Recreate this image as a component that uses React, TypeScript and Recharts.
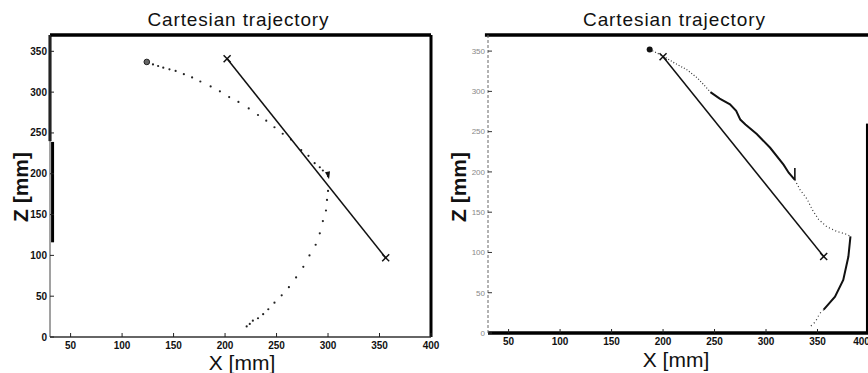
import React from 'react';
import { ScatterChart, Scatter, XAxis, YAxis, ReferenceLine } from 'recharts';

const xTicks = [50, 100, 150, 200, 250, 300, 350, 400];
const zTicks = [0, 50, 100, 150, 200, 250, 300, 350];

// left panel: straight reference path, start point, sampled trajectory
const leftPathX = [202, 356];
const leftPathZ = [341, 97];
const leftStartX = [124];
const leftStartZ = [337];
const leftArrowX = [300];
const leftArrowZ = [197];
const leftTrajX = [124, 130, 135, 140, 146, 152, 160, 168, 176, 186, 195, 204, 213, 223, 232, 240, 248, 256, 264, 274, 281, 287, 292, 295, 300, 300, 299, 298, 295, 292, 288, 282, 276, 269, 262, 255, 248, 242, 237, 232, 227, 224, 221];
const leftTrajZ = [337, 334, 332, 330, 328, 326, 322, 318, 313, 307, 301, 294, 288, 280, 272, 265, 257, 249, 242, 229, 222, 213, 208, 204, 197, 179, 168, 155, 142, 127, 113, 100, 86, 73, 61, 51, 42, 34, 28, 23, 20, 16, 13];

// right panel
const rightPathX = [200, 356];
const rightPathZ = [343, 95];
const rightStartX = [187];
const rightStartZ = [352];
const rightArrowX = [328];
const rightArrowZ = [190];
const rightSeg1X = [187, 200, 210, 223, 233, 239, 246];
const rightSeg1Z = [352, 344, 336, 327, 317, 309, 299];
const rightSeg2X = [246, 255, 265, 271, 275, 280, 291, 304, 317, 322, 328];
const rightSeg2Z = [299, 291, 284, 276, 265, 259, 247, 230, 209, 199, 190];
const rightSeg3X = [328, 333, 340, 345, 351, 359, 369, 377, 382];
const rightSeg3Z = [190, 178, 166, 153, 141, 132, 126, 123, 120];
const rightSeg4X = [382, 380, 375, 367, 356];
const rightSeg4Z = [120, 95, 66, 45, 29];
const rightSeg5X = [356, 352, 348, 343];
const rightSeg5Z = [29, 24, 14, 8];

const pts = (xs: number[], zs: number[]) => xs.map((x, i) => ({ x, y: zs[i] }));

const FONT = '"Liberation Sans", Arial, sans-serif';

const Hidden = () => <g />;
const SmallDot = (p: any) => <circle cx={p.cx} cy={p.cy} r={1.1} fill="#222" />;
const XMark = (p: any) => (
  <g stroke="#111" strokeWidth={1.5}>
    <line x1={p.cx - 3.5} y1={p.cy - 3.5} x2={p.cx + 3.5} y2={p.cy + 3.5} />
    <line x1={p.cx - 3.5} y1={p.cy + 3.5} x2={p.cx + 3.5} y2={p.cy - 3.5} />
  </g>
);
const OpenCircle = (p: any) => <circle cx={p.cx} cy={p.cy} r={2.8} fill="#666" stroke="#222" strokeWidth={1} />;
const FilledCircle = (p: any) => <circle cx={p.cx} cy={p.cy} r={3} fill="#111" />;
const LeftArrow = (p: any) => (
  <polygon points={`${p.cx + 1},${p.cy + 3} ${p.cx - 3},${p.cy - 4} ${p.cx + 2},${p.cy - 5}`} fill="#111" />
);
const RightArrow = (p: any) => (
  <line x1={p.cx} y1={p.cy - 12} x2={p.cx} y2={p.cy} stroke="#111" strokeWidth={1.6} />
);

const tickBold = { fontSize: 10, fontWeight: 700, fill: '#111', fontFamily: FONT };
const tickFaint = { fontSize: 8, fill: '#888', fontFamily: FONT };

const LeftChart = () => (
  <ScatterChart width={440} height={373} margin={{ top: 35, right: 9, bottom: 0, left: 0 }}>
    <XAxis type="number" dataKey="x" domain={[30, 400]} ticks={xTicks} height={36}
      tickSize={-4} tickMargin={9} tick={tickBold} tickLine={{ stroke: '#222' }}
      axisLine={{ stroke: '#333', strokeWidth: 1.5 }} />
    <YAxis type="number" dataKey="y" domain={[0, 370]} ticks={zTicks} width={50}
      tickSize={-4} tickMargin={7} tick={tickBold} tickLine={{ stroke: '#222' }}
      axisLine={{ stroke: '#444', strokeWidth: 1 }} />
    <ReferenceLine segment={[{ x: 30, y: 370 }, { x: 400, y: 370 }]} stroke="#000" strokeWidth={3.5} ifOverflow="visible" />
    <ReferenceLine segment={[{ x: 400, y: 0 }, { x: 400, y: 370 }]} stroke="#000" strokeWidth={3} ifOverflow="visible" />
    <ReferenceLine segment={[{ x: 30, y: 240 }, { x: 30, y: 370 }]} stroke="#000" strokeWidth={3} ifOverflow="visible" />
    <ReferenceLine segment={[{ x: 32.5, y: 116 }, { x: 32.5, y: 239 }]} stroke="#000" strokeWidth={3} ifOverflow="visible" />
    <Scatter data={pts(leftTrajX, leftTrajZ)} shape={SmallDot} isAnimationActive={false} />
    <Scatter data={pts(leftPathX, leftPathZ)} shape={XMark} line={{ stroke: '#111', strokeWidth: 1.5 }} isAnimationActive={false} />
    <Scatter data={pts(leftStartX, leftStartZ)} shape={OpenCircle} isAnimationActive={false} />
    <Scatter data={pts(leftArrowX, leftArrowZ)} shape={LeftArrow} isAnimationActive={false} />
  </ScatterChart>
);

const RightChart = () => (
  <ScatterChart width={439} height={373} margin={{ top: 35, right: 0, bottom: 0, left: 0 }}>
    <XAxis type="number" dataKey="x" domain={[30, 400]} ticks={xTicks} height={40}
      tickSize={-4} tickMargin={9} tick={tickBold} tickLine={{ stroke: '#222' }}
      axisLine={{ stroke: '#000', strokeWidth: 3.5 }} />
    <YAxis type="number" dataKey="y" domain={[0, 370]} ticks={zTicks} width={58}
      tickSize={-4} tickMargin={7} tick={tickFaint} tickLine={{ stroke: '#333' }}
      axisLine={{ stroke: '#666', strokeWidth: 1, strokeDasharray: '3 2' }} />
    <ReferenceLine segment={[{ x: 27, y: 370 }, { x: 400, y: 370 }]} stroke="#000" strokeWidth={3.5} ifOverflow="visible" />
    <ReferenceLine segment={[{ x: 398.5, y: 0 }, { x: 398.5, y: 260 }]} stroke="#000" strokeWidth={3} ifOverflow="visible" />
    <Scatter data={pts(rightSeg1X, rightSeg1Z)} shape={Hidden} line={{ stroke: '#333', strokeWidth: 1.2, strokeDasharray: '1 2' }} isAnimationActive={false} />
    <Scatter data={pts(rightSeg2X, rightSeg2Z)} shape={Hidden} line={{ stroke: '#111', strokeWidth: 2 }} isAnimationActive={false} />
    <Scatter data={pts(rightSeg3X, rightSeg3Z)} shape={Hidden} line={{ stroke: '#333', strokeWidth: 1.2, strokeDasharray: '1 2.5' }} isAnimationActive={false} />
    <Scatter data={pts(rightSeg4X, rightSeg4Z)} shape={Hidden} line={{ stroke: '#111', strokeWidth: 2 }} isAnimationActive={false} />
    <Scatter data={pts(rightSeg5X, rightSeg5Z)} shape={Hidden} line={{ stroke: '#333', strokeWidth: 1.2, strokeDasharray: '1 3' }} isAnimationActive={false} />
    <Scatter data={pts(rightPathX, rightPathZ)} shape={XMark} line={{ stroke: '#111', strokeWidth: 1.5 }} isAnimationActive={false} />
    <Scatter data={pts(rightStartX, rightStartZ)} shape={FilledCircle} isAnimationActive={false} />
    <Scatter data={pts(rightArrowX, rightArrowZ)} shape={RightArrow} isAnimationActive={false} />
  </ScatterChart>
);

export default function App() {
  return (
    <div style={{ position: 'absolute', left: 0, top: 0, width: 868, height: 373, overflow: 'hidden', background: '#fff' }}>
      <div style={{ position: 'absolute', left: 0, top: 0 }}>
        <LeftChart />
      </div>
      <div style={{ position: 'absolute', left: 430, top: 0 }}>
        <RightChart />
      </div>
      <svg width={868} height={373} style={{ position: 'absolute', left: 0, top: 0, pointerEvents: 'none' }}
        fontFamily={FONT} fill="#111">
        <text x={238} y={26} textAnchor="middle" fontSize={19} textLength={181}>Cartesian trajectory</text>
        <text x={674} y={26} textAnchor="middle" fontSize={19} textLength={182}>Cartesian trajectory</text>
        <text x={242} y={370} textAnchor="middle" fontSize={21}>X [mm]</text>
        <text x={676} y={367} textAnchor="middle" fontSize={21}>X [mm]</text>
        <text transform="translate(28,187) rotate(-90)" textAnchor="middle" fontSize={21} fontWeight={700}>Z [mm]</text>
        <text transform="translate(466,187) rotate(-90)" textAnchor="middle" fontSize={21} fontWeight={700}>Z [mm]</text>
      </svg>
    </div>
  );
}
